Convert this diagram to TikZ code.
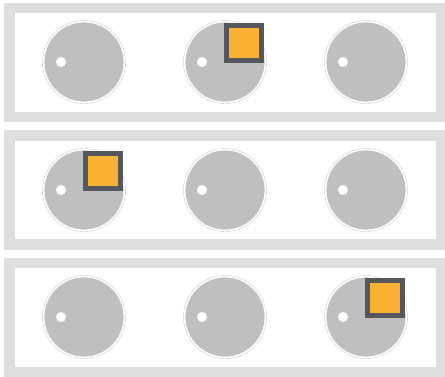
\documentclass[tikz,border=0pt]{standalone}
\usepackage{xcolor}
\usepackage{tikz}
\usetikzlibrary{positioning}

\definecolor{framegray}{RGB}{221,222,223}
\definecolor{knobgray}{RGB}{190,191,193}
\definecolor{slate}{RGB}{84,87,91}
\definecolor{amber}{RGB}{251,178,52}

\begin{document}
\begin{tikzpicture}[
  x=1pt, y=-1pt,
  panel/.style={
    rectangle,
    draw=framegray,
    line width=10.5pt,
    minimum width=431.5pt,
    minimum height=109pt,
    inner sep=0pt
  },
  knob/.style={
    circle,
    fill=knobgray,
    draw=white,
    line width=0.8pt,
    minimum size=80pt,
    inner sep=0pt
  },
  rim/.style={
    draw=knobgray!80,
    line width=0.4pt
  },
  dot/.style={
    circle,
    fill=white,
    minimum size=10pt,
    inner sep=0pt
  },
  flag/.style={
    rectangle,
    draw=slate,
    fill=amber,
    line width=5pt,
    minimum size=35pt,
    inner sep=0pt
  }
]
\useasboundingbox (0,0) rectangle (445,376);

% Panels
\node[panel] (row1) at (225.25,62.5) {};
\node[panel] (row2) at (225.25,190) {};
\node[panel] (row3) at (225.25,317.5) {};

% Knobs, row 1
\node[knob] (k11) at (84,62) {};
\node[knob] (k12) at (225,62) {};
\node[knob] (k13) at (366,62) {};

% Knobs, row 2
\node[knob] (k21) at (84,190) {};
\node[knob] (k22) at (225,190) {};
\node[knob] (k23) at (366,190) {};

% Knobs, row 3
\node[knob] (k31) at (84,317) {};
\node[knob] (k32) at (225,317) {};
\node[knob] (k33) at (366,317) {};

% Rims
\draw[rim] (k11.center) circle[radius=41.5pt];
\draw[rim] (k12.center) circle[radius=41.5pt];
\draw[rim] (k13.center) circle[radius=41.5pt];
\draw[rim] (k21.center) circle[radius=41.5pt];
\draw[rim] (k22.center) circle[radius=41.5pt];
\draw[rim] (k23.center) circle[radius=41.5pt];
\draw[rim] (k31.center) circle[radius=41.5pt];
\draw[rim] (k32.center) circle[radius=41.5pt];
\draw[rim] (k33.center) circle[radius=41.5pt];

% Indicator dots
\node[dot] (d11) at ([xshift=-23pt]k11.center) {};
\node[dot] (d12) at ([xshift=-23pt]k12.center) {};
\node[dot] (d13) at ([xshift=-23pt]k13.center) {};
\node[dot] (d21) at ([xshift=-23pt]k21.center) {};
\node[dot] (d22) at ([xshift=-23pt]k22.center) {};
\node[dot] (d23) at ([xshift=-23pt]k23.center) {};
\node[dot] (d31) at ([xshift=-23pt]k31.center) {};
\node[dot] (d32) at ([xshift=-23pt]k32.center) {};
\node[dot] (d33) at ([xshift=-23pt]k33.center) {};

% Active markers
\node[flag] (f1) at ([shift={(19pt,19pt)}]k12.center) {};
\node[flag] (f2) at ([shift={(19pt,19pt)}]k21.center) {};
\node[flag] (f3) at ([shift={(19pt,19pt)}]k33.center) {};

\end{tikzpicture}
\end{document}
